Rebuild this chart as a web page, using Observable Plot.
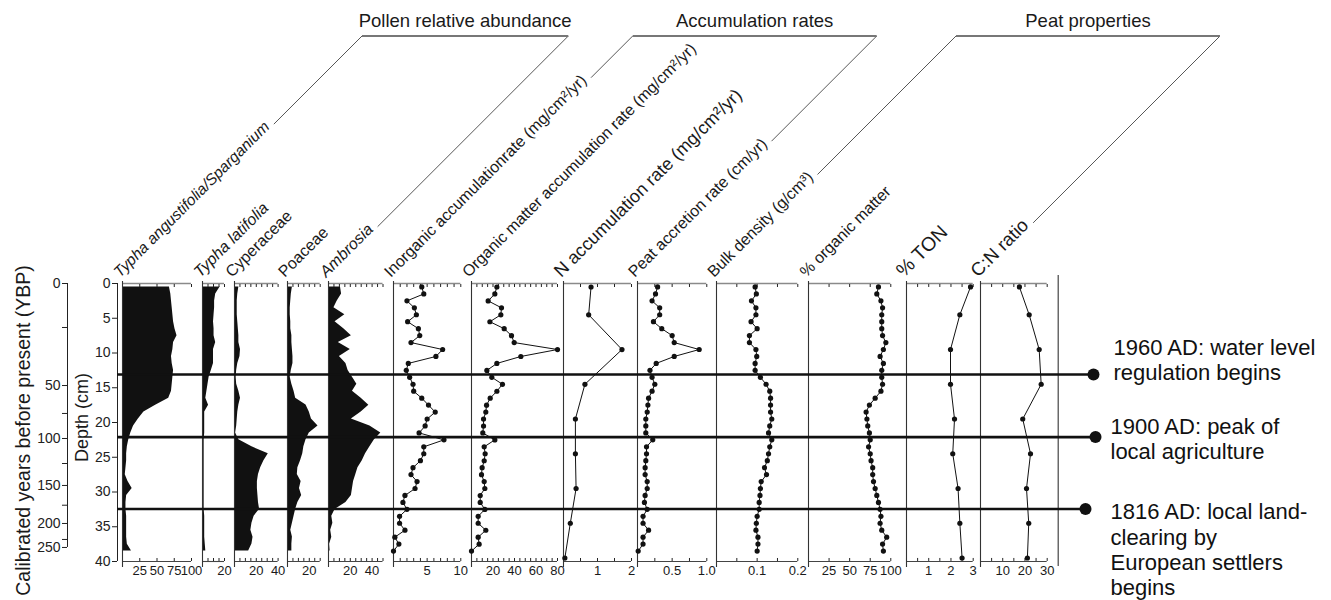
<!DOCTYPE html>
<html>
<head>
<meta charset="utf-8">
<script src="https://cdn.jsdelivr.net/npm/d3@7"></script>
<script src="https://cdn.jsdelivr.net/npm/@observablehq/plot@0.6"></script>
<style>
html, body { margin: 0; padding: 0; background: #fff; }
#chart { position: relative; width: 1331px; height: 600px; overflow: hidden; }
#chart svg { position: absolute; }
</style>
</head>
<body>
<div id="chart"></div>
<script>
// ---------------- DATA ----------------
const depth = [0.5,1.5,2.5,3.5,4.5,5.5,6.5,7.5,8.5,9.5,10.5,11.5,12.5,13.5,14.5,15.5,16.5,17.5,18.5,19.5,20.5,21.5,22.5,23.5,24.5,25.5,26.5,27.5,28.5,29.5,30.5,31.5,32.5,33.5,34.5,35.5,36.5,37.5,38.5];
const depthN = [0.5,4.5,9.5,14.5,19.5,24.5,29.5,34.5,39.5];

const typhaAng = [68,70,71,72,73,74,76,79,74,73,71,72,74,73,72,71,67,48,31,23,16,12,9,7,6,6,5,4,8,14,6,5,5,6,6,6,6,7,13];
const typhaLat = [16,12,11,11,10.5,10,10.5,10.5,12,10,10,10,8,6,5,4,3,5.5,2,2,2,2,1.5,1.5,1.5,1.5,1.5,1.5,1.5,1.5,1.5,1.5,1.5,2,2,2,2,2.5,3];
const cyperaceae = [4,3,2.5,2.5,2.5,3,3.5,4,4,5.5,5,3,2,1.5,2,4,5.5,4,3,2.5,2,1,4,16,31,27,24,22,21,21,21.5,22,23,18,16,15,17,16,13];
const poaceae = [4.5,3.5,3,2.5,2.5,3,3,4,4,4.5,5,5,3.5,2.5,4,6,7.5,17,20,22,28,20,17,15,14,12,9.5,9,12.5,11,13,9.5,7.5,6,4.5,3,4.5,4,4];
const ambrosia = [11,12,8,5,15,6,14,21,9,20,10,16,18,22,26,22,30,37,30,21,38,48,42,38,34,31,27,25,23,22,21,16,6,3,4,2,3,1,1.5];

const inorganicAcc = [4.2,4.5,2.0,3.1,3.4,2.1,3.7,3.9,2.6,7.3,6.3,2.2,1.9,2.4,2.9,3.0,4.2,5.2,6.2,5.0,4.7,3.8,7.5,4.5,4.5,4.0,2.9,2.6,3.5,3.2,1.7,1.4,2.0,0.9,0.9,1.7,0.2,0.8,0.0];
const organicAcc = [23.6,21.7,15.5,27.9,27.3,17.1,30.4,37.2,39.7,80,45.9,23.6,14.3,18.9,28.8,23.6,17.4,14.0,13.3,11.2,11.2,10.5,21.7,11.8,12.7,11.8,9.9,9.3,11.8,12.4,8.1,8.1,12.4,6.2,6.2,13.3,6.2,7.1,0];
const nAcc = [0.81,0.74,1.72,0.63,0.35,0.35,0.37,0.2,0.04];
const peatAccretion = [0.29,0.26,0.21,0.32,0.32,0.23,0.35,0.50,0.53,0.89,0.53,0.27,0.18,0.21,0.25,0.21,0.16,0.15,0.14,0.12,0.12,0.12,0.22,0.13,0.13,0.12,0.11,0.11,0.14,0.14,0.11,0.10,0.14,0.08,0.08,0.16,0.08,0.08,0.01];
const bulkDensity = [0.095,0.098,0.086,0.097,0.097,0.085,0.100,0.081,0.081,0.097,0.099,0.095,0.095,0.108,0.122,0.131,0.133,0.133,0.133,0.136,0.131,0.128,0.136,0.131,0.128,0.125,0.118,0.123,0.110,0.108,0.107,0.105,0.105,0.100,0.098,0.097,0.102,0.102,0.100];
const organicPct = [85,83,88,90,89,89,89,90,94,91,87,91,89,89,90,88,81,74,70,71,72,74,75,73,75,76,78,78,79,81,83,85,87,88,87,89,95,90,91];
const tonPct = [2.88,2.40,1.98,1.98,2.16,2.08,2.32,2.40,2.50];
const cnRatio = [17.5,21.9,26.4,27.3,19.0,22.5,20.7,21.7,21.1];

const depthTicks = [0,5,10,15,20,25,30,35,40];
const ageTickAges = [0,50,100,150,200,250];
const ageTickDepths = [0,14.68,22.3,29.06,34.53,37.98];
const ageMinorDepths = [6.33,18.7,25.9,31.9,36.83]; // 25, 75, 125, 175, 225 YBP

const eventDepths = [13.1,22.1,32.45];
const eventTexts = ["1960 AD: water level\nregulation begins","1900 AD: peak of\nlocal agriculture","1816 AD: local land-\nclearing by\nEuropean settlers\nbegins"];

const groupTitles = ["Pollen relative abundance","Accumulation rates","Peat properties"];

// panel definitions (data + tick labels)
const panels = [
  {key:"typhaAng", label:"Typha angustifolia/Sparganium", italic:true, kind:"area", depths:depth, values:typhaAng, domain:[0,100], step:25, labels:[25,50,75,100]},
  {key:"typhaLat", label:"Typha latifolia", italic:true, kind:"area", depths:depth, values:typhaLat, domain:[0,20], step:5, labels:[20]},
  {key:"cyper", label:"Cyperaceae", kind:"area", depths:depth, values:cyperaceae, domain:[0,40], step:5, labels:[20,40]},
  {key:"poac", label:"Poaceae", kind:"area", depths:depth, values:poaceae, domain:[0,30], step:5, labels:[20]},
  {key:"ambr", label:"Ambrosia", italic:true, kind:"area", depths:depth, values:ambrosia, domain:[0,50], step:5, labels:[20,40]},
  {key:"inorg", label:"Inorganic accumulationrate (mg/cm\u00B2/yr)", kind:"line", depths:depth, values:inorganicAcc, domain:[0,10], step:1, labels:[5,10]},
  {key:"omAcc", label:"Organic matter accumulation rate (mg/cm\u00B2/yr)", kind:"line", depths:depth, values:organicAcc, domain:[0,80], step:5, labels:[20,40,60,80]},
  {key:"nAcc", label:"N accumulation rate (mg/cm\u00B2/yr)", kind:"line", depths:depthN, values:nAcc, domain:[0,2], step:0.5, labels:[1,2]},
  {key:"peat", label:"Peat accretion rate (cm/yr)", kind:"line", depths:depth, values:peatAccretion, domain:[0,1], step:0.25, labels:[0.5,1.0], fmt:".1f"},
  {key:"bulk", label:"Bulk density (g/cm\u00B3)", kind:"line", depths:depth, values:bulkDensity, domain:[0,0.2], step:0.05, labels:[0.1,0.2], fmt:".1f"},
  {key:"omPct", label:"% organic matter", kind:"line", depths:depth, values:organicPct, domain:[0,100], step:25, labels:[25,50,75,100]},
  {key:"ton", label:"% TON", kind:"line", depths:depthN, values:tonPct, domain:[0,3], step:0.5, labels:[1,2,3]},
  {key:"cn", label:"C:N ratio", kind:"line", depths:depthN, values:cnRatio, domain:[0,30], step:5, labels:[10,20,30]}
];
const groups = [
  {title:groupTitles[0], first:"typhaAng", last:"ambr"},
  {title:groupTitles[1], first:"inorg", last:"peat"},
  {title:groupTitles[2], first:"bulk", last:"cn"}
];

// ---------------- LAYOUT ----------------
const FONT = '"Liberation Sans", Arial, Helvetica, sans-serif';
const layout = {
  typhaAng:{x0:122, w:69}, typhaLat:{x0:202.3, w:22}, cyper:{x0:234, w:43.6}, poac:{x0:286.7, w:32.7},
  ambr:{x0:328.3, w:54.5}, inorg:{x0:392.7, w:67.3}, omAcc:{x0:470.7, w:86}, nAcc:{x0:563.3, w:68},
  peat:{x0:636.7, w:69.3}, bulk:{x0:716, w:81.3}, omPct:{x0:808.3, w:82.3}, ton:{x0:906, w:66.7},
  cn:{x0:980, w:66.7, rightLine:11}
};
const labelSize = {typhaAng:15.5, nAcc:18, ton:19.5, cn:18.5};
const Y0 = 283, Y1 = 561;
const chart = document.getElementById("chart");
function place(svg, left, top) {
  svg.style.position = "absolute";
  svg.style.left = left + "px";
  svg.style.top = top + "px";
  chart.appendChild(svg);
}
const baseStyle = {fontFamily: FONT, fontSize: "13px", background: "transparent", overflow: "visible", color: "#222"};

// ---------------- HEADER (rotated labels + group brackets) ----------------
const hdr = d3.create("svg").attr("width", 1331).attr("height", 290)
  .style("position", "absolute").style("left", "0px").style("top", "0px")
  .style("overflow", "visible").attr("font-family", FONT);
chart.appendChild(hdr.node());
const S = Math.SQRT1_2;
const ends = {};
panels.forEach(p => {
  const ax = layout[p.key].x0 - 2, ay = 278;
  const t = hdr.append("text")
    .attr("transform", `translate(${ax},${ay}) rotate(-45)`)
    .attr("font-size", labelSize[p.key] || 16)
    .attr("font-style", p.italic ? "italic" : "normal")
    .attr("fill", "#1a1a1a").text(p.label);
  const L = t.node().getComputedTextLength();
  ends[p.key] = {ax, ay, ex: ax + L * S, ey: ay - L * S};
});
const yTop = 36, gap = 5 * S;
groups.forEach(g => {
  const a = ends[g.first], b = ends[g.last];
  const lc = a.ax + a.ay - yTop, rc = b.ax + b.ay - yTop;
  hdr.append("path").attr("d", `M${a.ex + gap},${a.ey - gap}L${lc},${yTop}`).attr("stroke", "#444").attr("stroke-width", 0.9).attr("fill", "none");
  hdr.append("path").attr("d", `M${b.ex + gap},${b.ey - gap}L${rc},${yTop}`).attr("stroke", "#444").attr("stroke-width", 0.9).attr("fill", "none");
  hdr.append("path").attr("d", `M${lc},${yTop}H${rc}`).attr("stroke", "#777").attr("stroke-width", 1.8).attr("fill", "none");
  hdr.append("text").attr("x", (lc + rc) / 2).attr("y", 27).attr("text-anchor", "middle")
    .attr("font-size", 18.5).attr("fill", "#1a1a1a").text(g.title);
});

// ---------------- LEFT AXES ----------------
const ageLabelOf = new Map(ageTickDepths.map((d, i) => [d, String(ageTickAges[i])]));
const agePlot = Plot.plot({
  width: 90, height: 600, marginLeft: 67, marginRight: 20, marginTop: Y0, marginBottom: 600 - Y1,
  x: {domain: [0, 1], axis: null, label: null},
  y: {domain: [0, 40], reverse: true, label: null},
  style: baseStyle,
  marks: [
    Plot.axisY(ageTickDepths, {anchor: "left", tickSize: 5, tickPadding: 2, fontSize: 14, tickFormat: d => ageLabelOf.get(d), label: null}),
    Plot.axisY(ageMinorDepths, {anchor: "left", tickSize: 5, fill: "none", label: null}),
    Plot.ruleX([0], {y1: ageTickDepths[0], y2: ageTickDepths[ageTickDepths.length - 1], stroke: "#222"}),
    Plot.text(["Calibrated years before present (YBP)"], {frameAnchor: "left", textAnchor: "middle", dx: -44, dy: 8, rotate: -90, fontSize: 19.5, fill: "#1a1a1a"})
  ]
});
place(agePlot, 0, 0);

const depthPlot = Plot.plot({
  width: 140, height: 600, marginLeft: 117, marginRight: 20, marginTop: Y0, marginBottom: 600 - Y1,
  x: {domain: [0, 1], axis: null, label: null},
  y: {domain: [0, 40], reverse: true, label: null},
  style: baseStyle,
  marks: [
    Plot.axisY(depthTicks, {anchor: "left", tickSize: 5, tickPadding: 2, fontSize: 14, label: null}),
    Plot.ruleX([0], {stroke: "#222"}),
    Plot.text(["Depth (cm)"], {frameAnchor: "left", textAnchor: "middle", dx: -35, dy: -5, rotate: -90, fontSize: 18, fill: "#1a1a1a"})
  ]
});
place(depthPlot, 0, 0);

// ---------------- PANELS ----------------
const mL = 20, mR = 20, mT = 4, mB = 30;
panels.forEach(p => {
  const lay = layout[p.key];
  const data = p.depths.map((d, i) => ({depth: d, value: p.values[i]}));
  const ticks = d3.range(p.domain[0], p.domain[1] + p.step / 2, p.step);
  const fmt = p.fmt ? d3.format(p.fmt) : (d => String(d));
  const marks = [];
  if (p.kind === "area") {
    marks.push(Plot.areaX(data, {y: "depth", x: "value", fill: "#111"}));
  }
  marks.push(
    Plot.ruleY([0], {stroke: "#8a8a8a", strokeWidth: 1.5}),
    Plot.ruleY([40], {stroke: "#444", strokeWidth: 1.1}),
    Plot.axisX(ticks, {anchor: "top", tickSize: -3, fill: "none", stroke: "#222", label: null}),
    Plot.axisX(ticks, {anchor: "bottom", tickSize: -3, fill: "none", stroke: "#222", label: null}),
    Plot.axisX(p.labels, {anchor: "bottom", tickSize: 0, tickPadding: 4, fontSize: 13, tickFormat: fmt, fill: "#1a1a1a", label: null}),
    Plot.ruleX([0], {stroke: "#333", strokeWidth: 1.1, insetTop: -2, insetBottom: -6})
  );
  if (lay.rightLine) {
    marks.push(Plot.ruleX([p.domain[1]], {dx: lay.rightLine, stroke: "#333", strokeWidth: 1.1, insetTop: -8, insetBottom: -5}));
  }
  if (p.kind === "line") {
    marks.push(
      Plot.line(data, {x: "value", y: "depth", stroke: "#111", strokeWidth: 1}),
      Plot.dot(data, {x: "value", y: "depth", r: 2.6, fill: "#111"})
    );
  }
  const plot = Plot.plot({
    width: mL + lay.w + mR, height: mT + (Y1 - Y0) + mB,
    marginLeft: mL, marginRight: mR, marginTop: mT, marginBottom: mB,
    x: {domain: p.domain, label: null},
    y: {domain: [0, 40], reverse: true, axis: null, label: null},
    style: baseStyle,
    marks
  });
  place(plot, lay.x0 - mL, Y0 - mT);
});

// ---------------- EVENT LINES ----------------
const eventLayout = [
  {inset: -1, dotDx: 1, textDx: 21, textDy: -15.5},
  {inset: -3, dotDx: 3, textDx: 18, textDy: 1.5},
  {inset: 7, dotDx: -7, textDx: 18, textDy: 40}
];
const evMarks = [];
eventDepths.forEach((d, i) => {
  const lay = eventLayout[i];
  const row = [{depth: d, text: eventTexts[i]}];
  evMarks.push(
    Plot.ruleY(row, {y: "depth", stroke: "#111", strokeWidth: 2.6, insetRight: lay.inset}),
    Plot.dot(row, {y: "depth", frameAnchor: "right", dx: lay.dotDx, r: 6, fill: "#111"}),
    Plot.text(row, {y: "depth", text: "text", frameAnchor: "right", dx: lay.textDx, dy: lay.textDy,
      textAnchor: "start", lineAnchor: "middle", lineHeight: 1.14, fontSize: 22, fill: "#111"})
  );
});
const evPlot = Plot.plot({
  width: 1331, height: 600, marginLeft: 117, marginRight: 1331 - 1092, marginTop: Y0, marginBottom: 600 - Y1,
  y: {domain: [0, 40], reverse: true, axis: null, label: null},
  style: baseStyle,
  marks: evMarks
});
place(evPlot, 0, 0);
</script>
</body>
</html>
